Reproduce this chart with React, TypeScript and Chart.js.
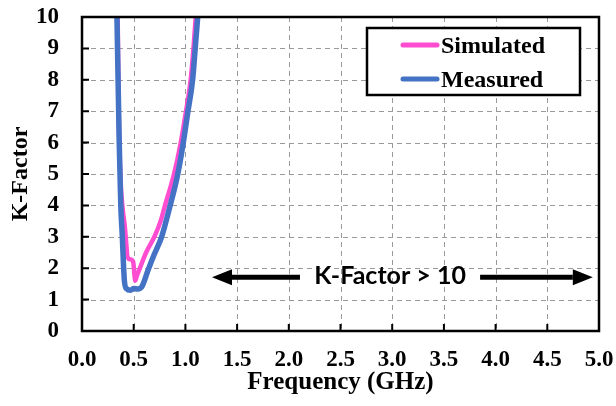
import { useEffect, useRef } from "react";
import { Chart, registerables } from "chart.js";

Chart.register(...registerables);

// ---- data ----
const xTickLabels = ["0.0", "0.5", "1.0", "1.5", "2.0", "2.5", "3.0", "3.5", "4.0", "4.5", "5.0"];
const yTickLabels = ["0", "1", "2", "3", "4", "5", "6", "7", "8", "9", "10"];
const seriesNames = ["Simulated", "Measured"];

const simFreq = [0.345, 0.355, 0.37, 0.39, 0.415, 0.43, 0.44, 0.47, 0.495, 0.515, 0.53, 0.56, 0.62, 0.7, 0.76, 0.803, 0.89, 0.955, 1.006, 1.051, 1.078, 1.1];
const simK = [10, 7, 5, 4, 3.3, 2.7, 2.35, 2.28, 2.2, 1.6, 1.75, 2.0, 2.5, 3.0, 3.5, 4, 5, 6, 7, 8, 9, 10];

const measFreq = [0.338, 0.36, 0.375, 0.39, 0.4, 0.41, 0.43, 0.47, 0.5, 0.54, 0.577, 0.64, 0.7, 0.77, 0.845, 0.92, 0.975, 1.025, 1.07, 1.095, 1.119];
const measK = [10, 6, 4, 3, 2.2, 1.6, 1.35, 1.3, 1.35, 1.34, 1.4, 1.95, 2.45, 3, 3.9, 4.9, 5.9, 7, 8, 9, 10];

const annotationText = "K-Factor > 10";
const arrowLevel = 1.71;
const leftArrowFreq = [2.108, 1.257]; // tail, tip
const rightArrowFreq = [3.85, 4.94]; // tail, tip
const annotationTextFreq = 2.98;

const colors = ["#FF4DD2", "#4472C4"];

const serif = "'Liberation Serif', 'Times New Roman', serif";

export default function App() {
  const ref = useRef<HTMLCanvasElement>(null);

  useEffect(() => {
    document.body.style.margin = "0";
    const canvas = ref.current;
    if (!canvas) return;

    const xTickValues = xTickLabels.map(parseFloat);
    const yTickValues = yTickLabels.map(parseFloat);

    const gridPlugin = {
      id: "dashGrid",
      beforeDatasetsDraw(chart: any) {
        const { ctx, chartArea: a, scales } = chart;
        ctx.save();
        ctx.strokeStyle = "#9a9a9a";
        ctx.lineWidth = 1;
        ctx.setLineDash([5, 4]);
        ctx.beginPath();
        for (const v of xTickValues) {
          const x = Math.round(scales.x.getPixelForValue(v)) + 0.5;
          ctx.moveTo(x, a.top);
          ctx.lineTo(x, a.bottom);
        }
        for (const v of yTickValues) {
          const y = Math.round(scales.y.getPixelForValue(v)) + 0.5;
          ctx.moveTo(a.left, y);
          ctx.lineTo(a.right, y);
        }
        ctx.stroke();
        ctx.restore();
      },
    };

    const framePlugin = {
      id: "frame",
      afterDatasetsDraw(chart: any) {
        const { ctx, chartArea: a, scales } = chart;
        ctx.save();
        ctx.strokeStyle = "#000";
        ctx.lineWidth = 2;
        ctx.beginPath();
        for (const v of yTickValues) {
          const y = scales.y.getPixelForValue(v);
          ctx.moveTo(a.left, y);
          ctx.lineTo(a.left + 7, y);
        }
        for (const v of xTickValues) {
          const x = scales.x.getPixelForValue(v);
          ctx.moveTo(x, a.bottom);
          ctx.lineTo(x, a.bottom - 7);
        }
        ctx.stroke();
        ctx.lineWidth = 2.5;
        ctx.strokeRect(a.left, a.top, a.right - a.left, a.bottom - a.top);
        ctx.restore();
      },
    };

    const drawArrow = (ctx: CanvasRenderingContext2D, x0: number, x1: number, y: number) => {
      const dir = Math.sign(x1 - x0);
      const head = 20;
      const half = 8;
      ctx.beginPath();
      ctx.moveTo(x0, y);
      ctx.lineTo(x1 - dir * head, y);
      ctx.lineWidth = 5;
      ctx.stroke();
      ctx.beginPath();
      ctx.moveTo(x1, y);
      ctx.lineTo(x1 - dir * head, y - half);
      ctx.lineTo(x1 - dir * head, y + half);
      ctx.closePath();
      ctx.fill();
    };

    const overlayPlugin = {
      id: "overlay",
      afterDraw(chart: any) {
        const { ctx, scales } = chart;
        ctx.save();
        // annotation
        ctx.strokeStyle = "#000";
        ctx.fillStyle = "#000";
        const y = scales.y.getPixelForValue(arrowLevel);
        drawArrow(ctx, scales.x.getPixelForValue(leftArrowFreq[0]), scales.x.getPixelForValue(leftArrowFreq[1]), y);
        drawArrow(ctx, scales.x.getPixelForValue(rightArrowFreq[0]), scales.x.getPixelForValue(rightArrowFreq[1]), y);
        ctx.font = "bold 25px Lato, 'Open Sans', sans-serif";
        ctx.textAlign = "center";
        ctx.textBaseline = "middle";
        ctx.fillText(annotationText, scales.x.getPixelForValue(annotationTextFreq), y - 1);

        // legend
        const bx = 367, by = 28, bw = 213, bh = 67;
        ctx.fillStyle = "#fff";
        ctx.fillRect(bx, by, bw, bh);
        ctx.lineWidth = 2.5;
        ctx.strokeStyle = "#000";
        ctx.strokeRect(bx, by, bw, bh);
        const rows = [45, 79];
        ctx.font = `bold 24px ${serif}`;
        ctx.textAlign = "left";
        ctx.textBaseline = "alphabetic";
        seriesNames.forEach((name, i) => {
          ctx.strokeStyle = colors[i];
          ctx.lineWidth = 5;
          ctx.lineCap = "round";
          ctx.beginPath();
          ctx.moveTo(403, rows[i]);
          ctx.lineTo(437, rows[i]);
          ctx.stroke();
          ctx.fillStyle = "#000";
          ctx.fillText(name, 441, rows[i] + 8);
        });
        ctx.restore();
      },
    };

    const chart = new Chart(canvas, {
      type: "line",
      data: {
        datasets: [
          {
            label: seriesNames[0],
            data: simFreq.map((f, i) => ({ x: f, y: simK[i] })),
            borderColor: colors[0],
            backgroundColor: colors[0],
            borderWidth: 4.5,
            pointRadius: 0,
            cubicInterpolationMode: "monotone",
            clip: 0,
            order: 2,
          },
          {
            label: seriesNames[1],
            data: measFreq.map((f, i) => ({ x: f, y: measK[i] })),
            borderColor: colors[1],
            backgroundColor: colors[1],
            borderWidth: 5.5,
            pointRadius: 0,
            cubicInterpolationMode: "monotone",
            clip: 0,
            order: 1,
          },
        ],
      },
      options: {
        responsive: false,
        animation: false,
        devicePixelRatio: 1,
        layout: { padding: { left: 0, top: 17, right: 17, bottom: 0 } },
        plugins: { legend: { display: false }, tooltip: { enabled: false } },
        scales: {
          x: {
            type: "linear",
            min: 0,
            max: 5,
            afterFit: (s: any) => {
              s.height = 75;
              s.paddingLeft = 0;
              s.paddingRight = 0;
              s.paddingTop = 0;
              s.paddingBottom = 0;
            },
            afterBuildTicks: (s: any) => {
              s.ticks = xTickValues.map((v) => ({ value: v }));
            },
            ticks: {
              autoSkip: false,
              maxRotation: 0,
              padding: 15,
              color: "#000",
              font: { family: serif, size: 23, weight: "bold" },
              callback: (v: any) => {
                const i = xTickValues.indexOf(Number(v));
                return i >= 0 ? xTickLabels[i] : "";
              },
            },
            grid: { display: false, drawTicks: false },
            border: { display: false },
            title: {
              display: true,
              text: "Frequency (GHz)",
              color: "#000",
              font: { family: serif, size: 25, weight: "bold" },
              padding: { top: 0, bottom: 8 },
            },
          },
          y: {
            type: "linear",
            min: 0,
            max: 10,
            afterFit: (s: any) => {
              s.width = 82;
              s.paddingLeft = 0;
              s.paddingRight = 0;
              s.paddingTop = 0;
              s.paddingBottom = 0;
            },
            afterBuildTicks: (s: any) => {
              s.ticks = yTickValues.map((v) => ({ value: v }));
            },
            ticks: {
              autoSkip: false,
              padding: 23,
              color: "#000",
              font: { family: serif, size: 23, weight: "bold" },
              callback: (v: any) => {
                const i = yTickValues.indexOf(Number(v));
                return i >= 0 ? yTickLabels[i] : "";
              },
            },
            grid: { display: false, drawTicks: false },
            border: { display: false },
            title: {
              display: true,
              text: "K-Factor",
              color: "#000",
              font: { family: serif, size: 24, weight: "bold" },
              padding: { top: 6, bottom: 0 },
            },
          },
        },
      },
      plugins: [gridPlugin, framePlugin, overlayPlugin],
    } as any);

    return () => chart.destroy();
  }, []);

  return (
    <div style={{ width: 616, height: 406 }}>
      <canvas ref={ref} width={616} height={406} style={{ display: "block" }} />
    </div>
  );
}
